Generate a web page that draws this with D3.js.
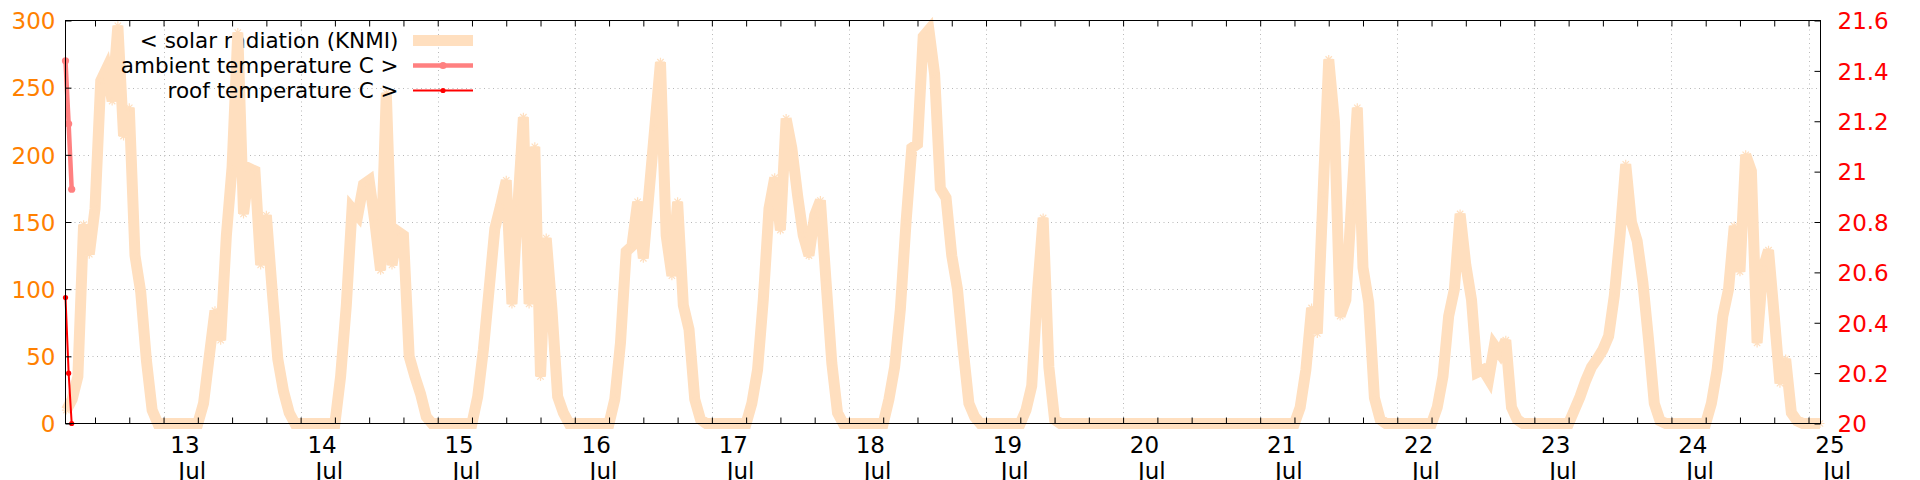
<!DOCTYPE html>
<html><head><meta charset="utf-8">
<script src="https://cdn.jsdelivr.net/npm/d3@7"></script>
<style>
body{margin:0;background:#fff}
svg text{font-family:"DejaVu Sans",sans-serif}
</style>
</head><body>
<svg id="chart" width="1920" height="480"></svg>
<script>
// ---- data: hourly solar radiation (KNMI), one array per day (values from hour given in dayFirstHour) ----
const day12 = [10, 18, 35, 148, 126, 160, 255, 264, 240, 296, 214, 235, 125, 98, 47, 10, 0];
const day13 = [0,0,0,0,0,0,0, 15, 50, 84, 62, 140, 191, 291, 156, 190, 188, 118, 155, 100, 48, 24, 8, 0];
const day14 = [0,0,0,0,0,0,0, 35, 88, 160, 155, 178, 181, 150, 114, 246, 118, 143, 140, 50, 35, 22, 5, 0];
const day15 = [0,0,0,0,0,0,0, 20, 55, 100, 145, 162, 181, 89, 160, 228, 89, 206, 35, 138, 85, 20, 8, 0];
const day16 = [0,0,0,0,0,0,0, 18, 60, 128, 132, 165, 123, 172, 220, 269, 140, 110, 165, 88, 70, 18, 3, 0];
const day17 = [0,0,0,0,0,0,0, 15, 40, 92, 160, 183, 144, 227, 205, 170, 140, 125, 155, 166, 105, 45, 8, 0];
const day18 = [0,0,0,0,0,0,0, 18, 42, 85, 150, 205, 208, 288, 293, 260, 175, 168, 125, 100, 55, 15, 5, 0];
const day19 = [0,0,0,0,0,0,0, 10, 28, 98, 153, 42, 3, 0, 0,0,0,0,0,0,0,0,0,0];
const day20 = [0,0,0,0,0,0,0,0,0,0,0,0,0,0,0,0,0,0,0,0,0,0,0,0];
const day21 = [0,0,0,0,0,0,0, 12, 40, 86, 67, 170, 271, 225, 80, 92, 165, 235, 116, 90, 19, 3, 0, 0];
const day22 = [0,0,0,0,0,0,0, 12, 35, 80, 100, 156, 118, 92, 38, 40, 33, 58, 52, 62, 12, 3, 0, 0];
const day23 = [0,0,0,0,0,0,0, 10, 20, 32, 42, 48, 55, 65, 95, 140, 193, 150, 136, 105, 62, 15, 2, 0];
const day24 = [0,0,0,0,0,0,0, 15, 40, 80, 100, 147, 113, 200, 188, 60, 115, 129, 80, 30, 48, 8, 2, 0];
const day25 = [0, 0, 0];
const dayDates = ["2023-07-12","2023-07-13","2023-07-14","2023-07-15","2023-07-16","2023-07-17","2023-07-18",
                  "2023-07-19","2023-07-20","2023-07-21","2023-07-22","2023-07-23","2023-07-24","2023-07-25"];
const dayFirstHour = [7,0,0,0,0,0,0,0,0,0,0,0,0,0];
const dayValues = [day12,day13,day14,day15,day16,day17,day18,day19,day20,day21,day22,day23,day24,day25];

// temperature readings (right axis)
const tempTimes = ["2023-07-12T06:50:00Z","2023-07-12T07:23:00Z","2023-07-12T07:55:00Z"];
const ambientTemp = [21.44, 21.19, 20.93];
const roofTemp = [20.50, 20.20, 20.00];

// axes
const xRange = ["2023-07-12T06:50:00Z","2023-07-25T02:06:00Z"];
const leftTicks = [0, 50, 100, 150, 200, 250, 300];
const rightTicks = [20, 20.2, 20.4, 20.6, 20.8, 21, 21.2, 21.4, 21.6];
const gridValues = [50, 100, 150, 200, 250];
const monthLabel = "Jul";
const legendLabels = ["< solar radiation (KNMI)", "ambient temperature C >", "roof temperature C >"];

// ---- build ----
const solar = [];
dayValues.forEach((vals, i) => {
  const t0 = d3.utcHour.offset(new Date(dayDates[i] + "T00:00:00Z"), dayFirstHour[i]);
  vals.forEach((v, h) => solar.push({t: d3.utcHour.offset(t0, h), v}));
});
const ambient = tempTimes.map((t, i) => ({t: new Date(t), v: ambientTemp[i]}));
const roof = tempTimes.map((t, i) => ({t: new Date(t), v: roofTemp[i]}));

const L = 65.5, R = 1820.5, T = 20.5, B = 423.5;
const x = d3.scaleUtc().domain(xRange.map(d => new Date(d))).range([L, R]);
const yL = d3.scaleLinear().domain([0, 300]).range([B, T]);
const yR = d3.scaleLinear().domain([20, 21.6]).range([B, T]);

const svg = d3.select("#chart");
const SOLAR = "#ffdfbf", AMB = "#ff8080", ROOF = "#ff0000";

// grid
const grid = svg.append("g").attr("stroke", "#b8b8b8").attr("stroke-width", 1).attr("stroke-dasharray", "1,3.5");
const days = d3.utcDay.range(new Date("2023-07-13T00:00:00Z"), new Date("2023-07-25T12:00:00Z"));
grid.selectAll("line.v").data(days).join("line").attr("class","v")
  .attr("x1", d => Math.round(x(d)) + 0.5).attr("x2", d => Math.round(x(d)) + 0.5).attr("y1", T).attr("y2", B);
grid.selectAll("line.h").data(gridValues).join("line").attr("class","h")
  .attr("x1", L).attr("x2", R).attr("y1", d => Math.round(yL(d)) + 0.5).attr("y2", d => Math.round(yL(d)) + 0.5);

const lx1 = 413, lx2 = 473, lTextX = 398.5;
const rowY = [40.5, 65.5, 90.5];
const fontL = 21.5;

function legendText(i) {
  svg.append("text").attr("x", lTextX).attr("y", rowY[i] + 7.5).attr("text-anchor", "end")
    .attr("font-size", fontL).attr("fill", "#000").text(legendLabels[i]);
}
function star(g, cx, cy, r) {
  const p = [];
  for (let k = 0; k < 4; k++) {
    const a = k * Math.PI / 4;
    p.push(`M${cx - r*Math.cos(a)},${cy - r*Math.sin(a)}L${cx + r*Math.cos(a)},${cy + r*Math.sin(a)}`);
  }
  g.append("path").attr("d", p.join("")).attr("stroke", SOLAR).attr("stroke-width", 1.2).attr("fill", "none");
}

// solar
legendText(0);
svg.append("line").attr("x1", lx1).attr("x2", lx2).attr("y1", rowY[0]).attr("y2", rowY[0])
  .attr("stroke", SOLAR).attr("stroke-width", 11);
const solarLine = d3.line().x(d => x(d.t)).y(d => yL(d.v));
svg.append("path").datum(solar).attr("d", solarLine).attr("fill", "none")
  .attr("stroke", SOLAR).attr("stroke-width", 11).attr("stroke-linejoin", "miter");
const stars = svg.append("g");
solar.forEach(d => star(stars, x(d.t), yL(d.v), 4.5));

// ambient
legendText(1);
const lineT = (data) => d3.line().x(d => x(d.t)).y(d => yR(d.v))(data);
svg.append("line").attr("x1", lx1).attr("x2", lx2).attr("y1", rowY[1]).attr("y2", rowY[1])
  .attr("stroke", AMB).attr("stroke-width", 4.5);
svg.append("circle").attr("cx", (lx1 + lx2) / 2).attr("cy", rowY[1]).attr("r", 3.6).attr("fill", AMB);
svg.append("path").attr("d", lineT(ambient)).attr("fill", "none").attr("stroke", AMB).attr("stroke-width", 4.5);
svg.append("g").selectAll("circle").data(ambient).join("circle")
  .attr("cx", d => x(d.t)).attr("cy", d => yR(d.v)).attr("r", 3.6).attr("fill", AMB);

// roof
legendText(2);
svg.append("line").attr("x1", lx1).attr("x2", lx2).attr("y1", rowY[2]).attr("y2", rowY[2])
  .attr("stroke", ROOF).attr("stroke-width", 2);
svg.append("circle").attr("cx", (lx1 + lx2) / 2).attr("cy", rowY[2]).attr("r", 2.6).attr("fill", ROOF);
svg.append("path").attr("d", lineT(roof)).attr("fill", "none").attr("stroke", ROOF).attr("stroke-width", 2);
svg.append("g").selectAll("circle").data(roof).join("circle")
  .attr("cx", d => x(d.t)).attr("cy", d => yR(d.v)).attr("r", 2.6).attr("fill", ROOF);

// axes (inward ticks)
const fontT = 23;
const sixHours = d3.utcHour.every(6).range(...x.domain());
svg.append("g").attr("transform", `translate(0,${B})`)
  .call(d3.axisBottom(x).tickValues(sixHours).tickSize(-6).tickFormat(""))
  .call(g => g.select(".domain").remove());
svg.append("g").attr("transform", `translate(0,${T})`)
  .call(d3.axisTop(x).tickValues(sixHours).tickSize(-6).tickFormat(""))
  .call(g => g.select(".domain").remove());
svg.append("g").attr("transform", `translate(${L},0)`)
  .call(d3.axisLeft(yL).tickValues(leftTicks).tickSize(-6).tickPadding(10).tickFormat(d3.format("d")))
  .call(g => g.select(".domain").remove())
  .call(g => g.selectAll("text").attr("fill", "#ff8000").attr("font-size", fontT).attr("font-family", "DejaVu Sans").attr("dy", "0.36em"));
svg.append("g").attr("transform", `translate(${R},0)`)
  .call(d3.axisRight(yR).tickValues(rightTicks).tickSize(-6).tickPadding(17).tickFormat(d => d3.format("")(+d.toFixed(1))))
  .call(g => g.select(".domain").remove())
  .call(g => g.selectAll("text").attr("fill", "#ff0000").attr("font-size", fontT).attr("font-family", "DejaVu Sans").attr("dy", "0.36em"));
svg.append("rect").attr("x", L).attr("y", T).attr("width", R - L).attr("height", B - T)
  .attr("fill", "none").attr("stroke", "#000").attr("stroke-width", 1);

// day labels
const dayLabels = svg.append("g").attr("font-size", fontT).attr("fill", "#000").attr("text-anchor", "middle");
dayLabels.selectAll("text.d").data(days).join("text").attr("class", "d")
  .attr("x", d => x(d) + 21.4).attr("y", 452.5).text(d3.utcFormat("%d"));
dayLabels.selectAll("text.m").data(days).join("text").attr("class", "m")
  .attr("x", d => x(d) + 28.7).attr("y", 478.8).text(monthLabel);
</script>
</body></html>
